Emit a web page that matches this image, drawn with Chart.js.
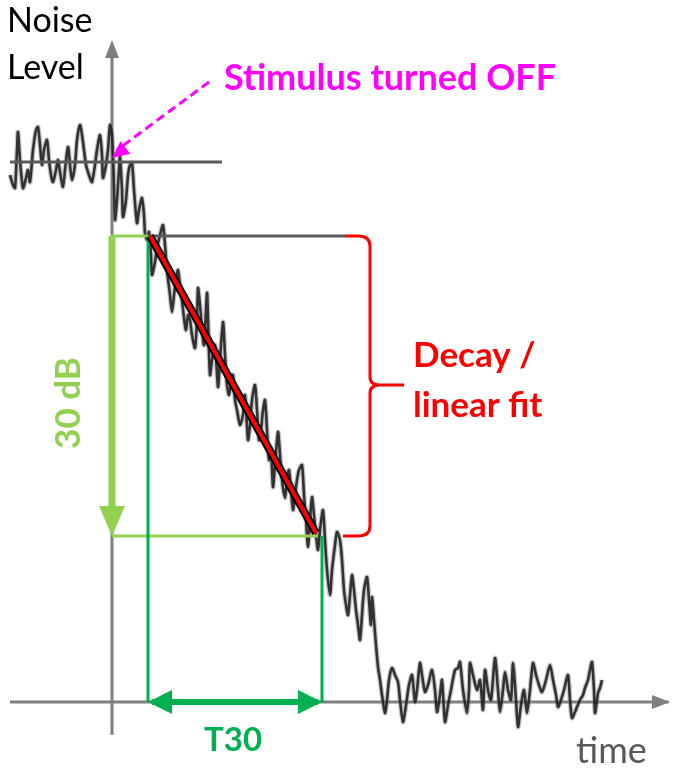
<!DOCTYPE html>
<html>
<head>
<meta charset="utf-8">
<script src="https://cdn.jsdelivr.net/npm/chart.js@4/dist/chart.umd.min.js"></script>
<style>
  html, body { margin: 0; padding: 0; background: #ffffff; }
  #wrap { width: 677px; height: 768px; position: relative; }
</style>
</head>
<body>
<div id="wrap"><canvas id="c" width="677" height="768"></canvas></div>
<script>
// ---------- DATA (time in ms, level in dB) ----------
const traceTime = [-204,-198,-194,-190,-188,-184,-178,-172,-168,-164,-158,-152,-148,-144,-140,-136,-130,-126,-122,-118,-112,-108,-104,-98,-94,-88,-84,-80,-74,-70,-64,-60,-56,-52,-48,-44,-40,-34,-30,-24,-20,-18,-12,-8,-4,0,4,6,10,14,16,20,22,28,32,36,40,44,50,54,60,64,66,70,74,78,80,86,90,96,102,106,110,116,120,124,128,132,136,140,144,148,152,156,160,166,170,172,176,180,184,190,192,196,200,206,212,216,222,226,230,234,238,242,246,250,256,262,266,272,276,280,286,290,294,298,302,306,310,314,318,322,326,332,336,340,346,350,354,358,362,366,370,374,380,384,388,392,396,400,404,408,412,416,422,426,430,436,440,446,450,456,460,464,468,472,476,480,484,488,492,496,500,504,510,514,518,520,524,528,532,536,540,546,550,554,560,566,572,576,582,588,594,600,606,610,616,620,626,632,640,646,650,656,660,666,672,678,686,692,696,702,710,714,716,722,730,736,742,746,752,758,766,772,776,782,786,792,798,802,808,812,818,824,830,836,842,848,854,860,868,876,882,888,892,898,904,912,916,920,926,930,936,942,946,952,956,960,964,966,970,972,976,980];
const traceLevel = [86.1,85.1,84.8,88.6,90.4,87.6,84.8,85.8,86.6,85.4,88.6,90.6,90.9,89.1,87.1,88.6,89.6,87.6,86.1,85.4,86.6,87.6,86.4,84.9,86.6,88.9,87.1,85.6,87.1,89.6,91.1,90.1,88.6,87.1,86.4,85.8,85.4,87.1,88.6,90.1,88.1,85.8,87.1,88.6,91.1,90.1,85.1,81.6,83.6,86.6,87.9,84.6,81.9,83.6,86.1,87.1,87.3,84.6,81.3,82.6,83.8,82.1,80.3,79.6,80.4,78.1,76.1,77.4,78.8,80.1,81.1,79.1,76.6,74.1,72.4,74.1,75.6,76.6,75.1,73.6,71.8,70.6,72.1,71.6,70.1,68.8,71.6,74.8,73.1,70.6,69.1,74.3,71.6,66.1,67.6,69.1,64.9,67.6,71.4,68.1,65.1,64.1,65.4,66.1,63.6,62.6,61.1,62.1,64.1,59.6,61.1,63.6,65.1,62.6,59.6,60.6,62.6,63.6,60.6,57.6,58.6,54.9,57.1,60.4,58.1,55.6,53.8,55.6,56.6,54.6,52.6,54.1,55.6,56.6,57.1,54.1,51.6,48.9,51.6,53.9,52.1,50.1,48.6,50.6,52.6,49.6,46.6,44.1,46.6,49.1,50.4,49.6,47.6,44.6,43.1,42.1,44.1,46.1,44.6,42.6,41.1,39.6,42.1,44.6,45.9,43.6,41.1,43.9,41.6,39.1,36.9,35.6,34.1,32.3,33.6,35.6,36.8,36.1,35.4,33.6,31.4,33.1,35.1,36.1,33.4,34.6,37.3,36.1,34.4,35.1,36.6,34.6,32.4,34.1,35.6,31.4,33.1,34.6,36.6,36.8,37.4,34.6,32.3,34.6,37.3,36.1,34.6,35.6,32.6,36.6,34.6,33.6,37.8,34.6,32.4,34.6,36.4,34.6,33.6,37.3,33.6,30.9,33.1,34.6,32.3,34.6,37.3,36.1,35.1,34.4,35.6,37.1,35.6,34.1,32.9,33.6,34.6,36.1,33.6,31.8,32.4,32.9,33.6,34.1,34.8,35.6,36.6,37.4,34.6,32.3,33.6,34.3,34.8,35.6];

const steadyLevel = 87.4;      // level while stimulus is on (dB)
const decayStartLevel = 80;    // start of evaluated decay (dB)
const decayEndLevel = 50;      // 30 dB below start (dB)
const axisLevel = 33.4;        // time axis level (dB)
const axisTopLevel = 99.6;     // tip of level axis (dB)
const axisBottomLevel = 30.1;  // bottom of level axis (dB)
const timeStart = -204;        // ms
const timeEnd = 1116;          // ms, tip of time axis
const steadyLineEnd = 220;     // ms
const decayLineEnd = 466;      // ms, where the brace starts
const t30Start = 72;           // ms
const t30End = 420;            // ms
const fitStart = [76, 80];     // [ms, dB]
const fitEnd = [408, 50.3];    // [ms, dB]
const stimulusArrowFrom = [194, 95.4]; // [ms, dB]
const stimulusArrowTo = [0, 87.8];     // [ms, dB]
const braceX = 516;            // ms
const braceNubX = 584;         // ms

const labels = {
  yTitle: ["Noise", "Level"],
  xTitle: "time",
  stimulus: "Stimulus turned OFF",
  decay: ["Decay /", "linear fit"],
  db: "30 dB",
  t30: "T30"
};

// ---------- COLOURS ----------
const GRAY_AXIS = '#7f7f7f';
const GRAY_LINE = '#5a5a5a';
const LIGHT_GREEN = '#92d050';
const DARK_GREEN = '#00b050';
const RED = '#ff0000';
const MAGENTA = '#ff00ff';

function seg(a, b, color, width, extra) {
  return Object.assign({
    data: [{x: a[0], y: a[1]}, {x: b[0], y: b[1]}],
    borderColor: color, borderWidth: width, pointRadius: 0,
    tension: 0, fill: false, borderCapStyle: 'butt'
  }, extra || {});
}

const traceData = traceTime.map((t, i) => ({x: t, y: traceLevel[i]}));

const datasets = [
  seg(fitStart, fitEnd, RED, 4, {order: 1}),
  seg(fitStart, fitEnd, '#000000', 8, {order: 2}),
  seg([t30Start + 8, axisLevel], [t30End - 8, axisLevel], DARK_GREEN, 6, {order: 3}),
  seg([t30Start, decayStartLevel], [t30Start, axisLevel], DARK_GREEN, 3, {order: 3}),
  seg([t30End, decayEndLevel], [t30End, axisLevel], DARK_GREEN, 3, {order: 3}),
  seg([0, decayStartLevel], [0, decayEndLevel + 3], LIGHT_GREEN, 7, {order: 3}),
  seg([-2, decayStartLevel], [t30Start, decayStartLevel], LIGHT_GREEN, 3, {order: 4}),
  seg([0, decayEndLevel], [t30End - 8, decayEndLevel], LIGHT_GREEN, 3, {order: 4}),
  seg(stimulusArrowFrom, [stimulusArrowTo[0] + 10, stimulusArrowTo[1] + 0.8], MAGENTA, 3, {order: 3, borderDash: [9, 5]}),
  seg([timeStart, steadyLevel], [steadyLineEnd, steadyLevel], GRAY_LINE, 3, {order: 5}),
  seg([t30Start, decayStartLevel], [decayLineEnd, decayStartLevel], GRAY_LINE, 3, {order: 5}),
  {
    data: traceData, borderColor: 'rgba(25,25,25,0.85)', borderWidth: 2.6,
    pointRadius: 0, tension: 0.25, fill: false, order: 6
  },
  {
    data: traceData, borderColor: 'rgba(130,130,130,0.45)', borderWidth: 5,
    pointRadius: 0, tension: 0.25, fill: false, order: 6.5
  },
  seg([0, axisBottomLevel], [0, axisTopLevel - 1.5], GRAY_AXIS, 3, {order: 7}),
  seg([timeStart, axisLevel], [timeEnd - 3, axisLevel], GRAY_AXIS, 3, {order: 7})
];

function tri(ctx, tip, dirx, diry, len, half, color) {
  const n = Math.hypot(dirx, diry); dirx /= n; diry /= n;
  const bx = tip[0] - dirx * len, by = tip[1] - diry * len;
  ctx.beginPath();
  ctx.moveTo(tip[0], tip[1]);
  ctx.lineTo(bx - diry * half, by + dirx * half);
  ctx.lineTo(bx + diry * half, by - dirx * half);
  ctx.closePath();
  ctx.fillStyle = color; ctx.fill();
}

const overlay = {
  id: 'overlay',
  afterDatasetsDraw(chart) {
    const {ctx, chartArea} = chart;
    const xs = chart.scales.x, ys = chart.scales.y;
    const X = v => xs.getPixelForValue(v), Y = v => ys.getPixelForValue(v);
    ctx.save();
    tri(ctx, [X(0), Y(axisTopLevel)], 0, -1, 18, 7, GRAY_AXIS);
    tri(ctx, [X(timeEnd), Y(axisLevel)], 1, 0, 18, 7, GRAY_AXIS);
    tri(ctx, [X(0), Y(decayEndLevel)], 0, 1, 30, 13, LIGHT_GREEN);
    tri(ctx, [X(t30Start), Y(axisLevel)], -1, 0, 24, 12, DARK_GREEN);
    tri(ctx, [X(t30End), Y(axisLevel)], 1, 0, 24, 12, DARK_GREEN);
    const ax = X(stimulusArrowTo[0]) - X(stimulusArrowFrom[0]);
    const ay = Y(stimulusArrowTo[1]) - Y(stimulusArrowFrom[1]);
    tri(ctx, [X(stimulusArrowTo[0]), Y(stimulusArrowTo[1])], ax, ay, 17, 8, MAGENTA);

    // red brace
    const x0 = X(decayLineEnd), xb = X(braceX), xn = X(braceNubX);
    const yT = Y(decayStartLevel), yB = Y(decayEndLevel);
    const yM = Y((decayStartLevel + decayEndLevel) / 2 + 0.1);
    ctx.strokeStyle = RED; ctx.lineWidth = 3; ctx.lineJoin = 'round';
    ctx.beginPath();
    ctx.moveTo(x0, yT);
    ctx.lineTo(xb - 12, yT);
    ctx.quadraticCurveTo(xb, yT, xb, yT + 10);
    ctx.lineTo(xb, yM - 8);
    ctx.quadraticCurveTo(xb, yM, xb + 10, yM);
    ctx.lineTo(xn, yM);
    ctx.moveTo(xb + 10, yM);
    ctx.quadraticCurveTo(xb, yM, xb, yM + 8);
    ctx.lineTo(xb, yB - 10);
    ctx.quadraticCurveTo(xb, yB, xb - 12, yB);
    ctx.lineTo(x0 - 2, yB);
    ctx.stroke();

    // texts
    const L = chartArea.left, T = chartArea.top;
    ctx.textBaseline = 'middle';
    ctx.textAlign = 'left';
    ctx.fillStyle = '#000000';
    ctx.font = '34px Lato';
    ctx.fillText(labels.yTitle[0], L + 7, T + 21);
    ctx.fillText(labels.yTitle[1], L + 7, T + 68);

    ctx.fillStyle = MAGENTA;
    ctx.font = 'bold 36px Lato';
    ctx.fillText(labels.stimulus, L + 224, T + 78);

    ctx.fillStyle = RED;
    ctx.font = 'bold 35px Lato';
    ctx.fillText(labels.decay[0], xn + 9, yM - 29);
    ctx.fillText(labels.decay[1], xn + 9, yM + 21);

    ctx.fillStyle = '#595959';
    ctx.font = '36px Lato';
    ctx.fillText(labels.xTitle, L + 576, T + 751);

    ctx.fillStyle = DARK_GREEN;
    ctx.font = 'bold 33px Lato';
    ctx.textAlign = 'center';
    ctx.fillText(labels.t30, (X(t30Start) + X(t30End)) / 2 - 2, T + 740);

    ctx.save();
    ctx.translate(L + 69, (yT + yB) / 2 + 17);
    ctx.rotate(-Math.PI / 2);
    ctx.fillStyle = LIGHT_GREEN;
    ctx.font = 'bold 35px Lato';
    ctx.fillText(labels.db, 0, 0);
    ctx.restore();

    ctx.restore();
  }
};

new Chart(document.getElementById('c'), {
  type: 'line',
  data: { datasets },
  options: {
    responsive: false,
    animation: false,
    events: [],
    layout: { padding: 0, autoPadding: false },
    plugins: { legend: { display: false }, tooltip: { enabled: false }, title: { display: false } },
    scales: {
      x: { type: 'linear', display: false, min: -224, max: 1130 },
      y: { type: 'linear', display: false, min: 26.8, max: 103.6 }
    }
  },
  plugins: [overlay]
});
</script>
</body>
</html>
